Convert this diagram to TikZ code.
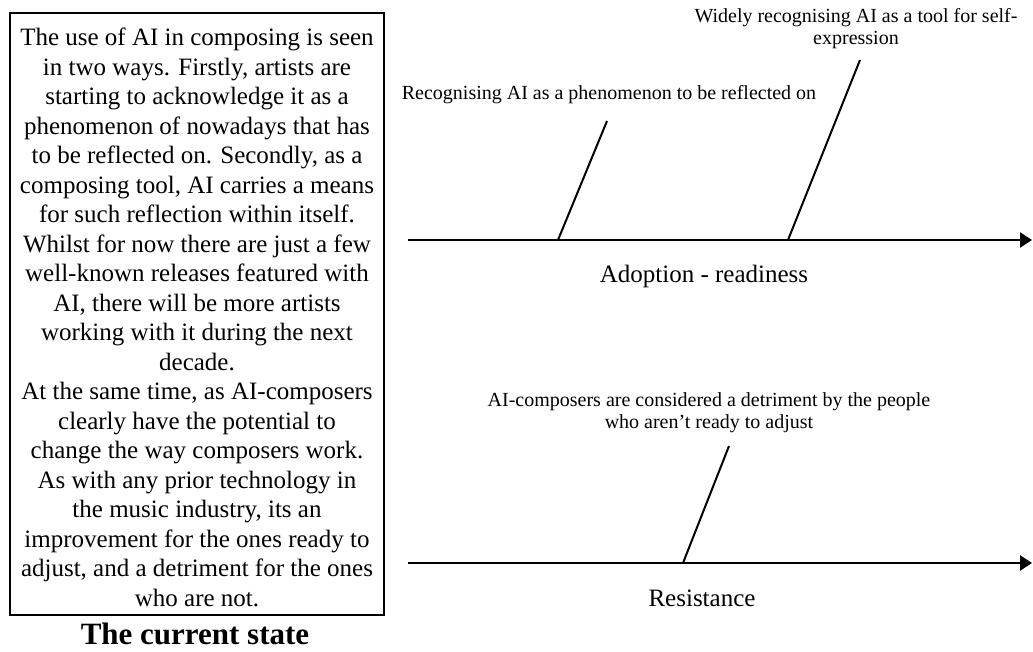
\documentclass[tikz,border=0pt]{standalone}
\usepackage{fontspec}
\setmainfont{Liberation Serif}
\usetikzlibrary{arrows.meta,positioning}

\begin{document}
\begin{tikzpicture}[x=1pt, y=-1pt,
  frame/.style={draw=black, line width=2.5pt, minimum width=374pt, minimum height=602pt, inner sep=0pt},
  story/.style={align=center, inner sep=0pt, font=\fontsize{25}{29.5}\selectfont},
  headline/.style={inner sep=0pt, font=\fontsize{31}{31}\selectfont\bfseries},
  spine/.style={-{Triangle[length=12pt,width=15pt]}, line width=2.6pt},
  bone/.style={line width=2pt},
  cause/.style={align=center, inner sep=0pt, font=\fontsize{20}{22}\selectfont},
  effect/.style={inner sep=0pt, font=\fontsize{25}{29}\selectfont}
]
  \useasboundingbox (0,0) rectangle (1033,652);

  \node[frame] (box) at (197,314) {};
  \node[story, anchor=north] (txt) at (197,28) {The use of AI in composing is seen\\in two ways. Firstly, artists are\\starting to acknowledge it as a\\phenomenon of nowadays that has\\to be reflected on. Secondly, as a\\composing tool, AI carries a means\\for such reflection within itself.\\Whilst for now there are just a few\\well-known releases featured with\\AI, there will be more artists\\working with it during the next\\decade.\\At the same time, as AI-composers\\clearly have the potential to\\change the way composers work.\\As with any prior technology in\\the music industry, its an\\improvement for the ones ready to\\adjust, and a detriment for the ones\\who are not.};
  \node[headline, anchor=base] (title) at (195,644) {The current state};

  \coordinate (adoptL) at (408,240);
  \coordinate (adoptR) at (1032,240);
  \coordinate (resistL) at (408,563);
  \coordinate (resistR) at (1032,563);
  \draw[spine] (adoptL) -- (adoptR);
  \draw[spine] (resistL) -- (resistR);

  \coordinate (reflB) at (558,240);
  \coordinate (reflT) at (607,121);
  \coordinate (selfB) at (788,240);
  \coordinate (selfT) at (860,60);
  \coordinate (detrB) at (683,563);
  \coordinate (detrT) at (729,446);
  \draw[bone] (reflB) -- (reflT);
  \draw[bone] (selfB) -- (selfT);
  \draw[bone] (detrB) -- (detrT);

  \node[cause, anchor=base] (refl) at (609,100) {Recognising AI as a phenomenon to be reflected on};
  \node[cause, anchor=north] (self) at (856,8) {Widely recognising AI as a tool for self-\\expression};
  \node[cause, anchor=north] (detr) at (709,392) {AI-composers are considered a detriment by the people\\who aren’t ready to adjust};

  \node[effect, anchor=base] (adopt) at (704,283) {Adoption - readiness};
  \node[effect, anchor=base] (resist) at (702,606) {Resistance};
\end{tikzpicture}
\end{document}
